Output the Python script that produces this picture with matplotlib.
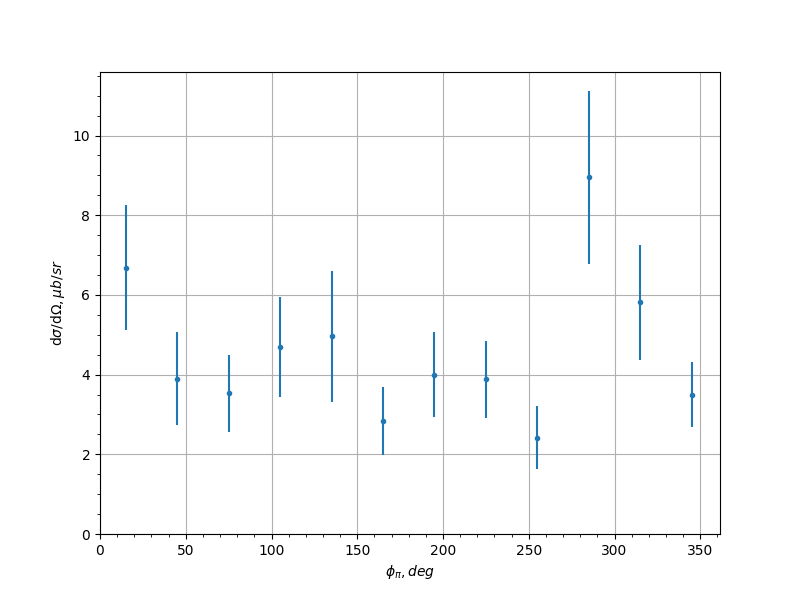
import matplotlib
matplotlib.use('Agg')
import matplotlib.pyplot as plt

phi = [15, 45, 75, 105, 135, 165, 195, 225, 255, 285, 315, 345]
xsec = [6.68, 3.90, 3.53, 4.70, 4.96, 2.83, 4.00, 3.88, 2.42, 8.95, 5.81, 3.50]
err = [1.57, 1.16, 0.96, 1.26, 1.64, 0.85, 1.07, 0.97, 0.78, 2.17, 1.44, 0.82]

plt.figure(figsize=(8, 6))
plt.errorbar(phi, xsec, yerr=err, fmt='.')
plt.xlabel(r'$\phi_\pi, deg$')
plt.ylabel(r'd$\sigma$/d$\Omega, \mu b/sr$')
plt.xlim(left=0)
plt.ylim(bottom=0)
plt.minorticks_on()
plt.grid(True)
plt.savefig('out.png', dpi=100)
